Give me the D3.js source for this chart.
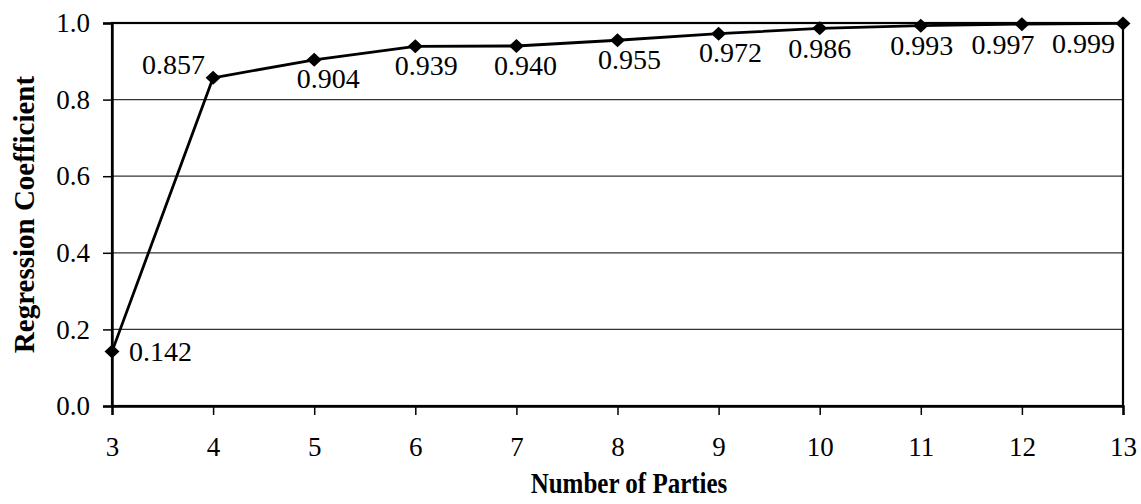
<!DOCTYPE html>
<html>
<head>
<meta charset="utf-8">
<script src="https://cdn.jsdelivr.net/npm/d3@7"></script>
<style>
  html, body { margin: 0; padding: 0; background: #fff; }
  svg { display: block; }
</style>
</head>
<body>
<svg id="chart" width="1141" height="504"></svg>
<script>
// ---- data ----
const parties = [3, 4, 5, 6, 7, 8, 9, 10, 11, 12, 13];
const coefficients = [0.142, 0.857, 0.904, 0.939, 0.940, 0.955, 0.972, 0.986, 0.993, 0.997, 0.999];
const valueLabels = ["0.142", "0.857", "0.904", "0.939", "0.940", "0.955", "0.972", "0.986", "0.993", "0.997", "0.999"];
const yTicks = [0.0, 0.2, 0.4, 0.6, 0.8, 1.0];
const xTitle = "Number of Parties";
const yTitle = "Regression Coefficient";

// label placement (style): anchor, dx, dy of text centre relative to point
const labelPlacement = [
  {anchor: "start",  dx: 17,  dy: 0},
  {anchor: "end",    dx: -8,  dy: -13},
  {anchor: "middle", dx: 14,  dy: 19},
  {anchor: "middle", dx: 11,  dy: 19},
  {anchor: "middle", dx: 9,   dy: 19},
  {anchor: "middle", dx: 12,  dy: 19},
  {anchor: "middle", dx: 12,  dy: 19},
  {anchor: "middle", dx: 0,   dy: 20},
  {anchor: "middle", dx: 1,   dy: 20},
  {anchor: "middle", dx: -19, dy: 20},
  {anchor: "end",    dx: -8,  dy: 20}
];

const svg = d3.select("#chart");
const W = 1141, H = 504;
const margin = {left: 112, right: 1141 - 1123, top: 23, bottom: 504 - 406};
const x = d3.scaleLinear().domain([3, 13]).range([margin.left, W - margin.right]);
const y = d3.scaleLinear().domain([0, 1]).range([H - margin.bottom, margin.top]);

const serif = "'Liberation Serif', 'Times New Roman', Times, serif";
const fsTick = 27, fsLabel = 28;

// gridlines
svg.append("g")
  .selectAll("line")
  .data(yTicks.filter(d => d > 0 && d < 1))
  .join("line")
  .attr("x1", x(3)).attr("x2", x(13))
  .attr("y1", d => y(d)).attr("y2", d => y(d))
  .attr("stroke", "#333").attr("stroke-width", 1.2);

// plot frame
svg.append("rect")
  .attr("x", x(3)).attr("y", y(1))
  .attr("width", x(13) - x(3)).attr("height", y(0) - y(1))
  .attr("fill", "none").attr("stroke", "#000").attr("stroke-width", 2.2);

// y axis
const yAxis = d3.axisLeft(y).tickValues(yTicks).tickFormat(d3.format(".1f")).tickSize(9).tickPadding(13);
const gy = svg.append("g").attr("transform", `translate(${x(3)},0)`).call(yAxis);
gy.select(".domain").attr("stroke", "#000").attr("stroke-width", 2.4);
gy.selectAll(".tick line").attr("stroke", "#000").attr("stroke-width", 1.5);
gy.selectAll(".tick text").attr("font-family", serif).attr("font-size", fsTick).attr("fill", "#000");

// x axis
const xAxis = d3.axisBottom(x).tickValues(parties).tickFormat(d3.format("d")).tickSize(9).tickPadding(22);
const gx = svg.append("g").attr("transform", `translate(0,${y(0)})`).call(xAxis);
gx.select(".domain").attr("stroke", "#000").attr("stroke-width", 2.4);
gx.selectAll(".tick line").attr("stroke", "#000").attr("stroke-width", 1.5);
gx.selectAll(".tick text").attr("font-family", serif).attr("font-size", fsTick).attr("fill", "#000");

// data
const data = parties.map((p, i) => ({p, v: coefficients[i], label: valueLabels[i], pl: labelPlacement[i]}));

svg.append("path")
  .datum(data)
  .attr("fill", "none").attr("stroke", "#000").attr("stroke-width", 2.8)
  .attr("stroke-linejoin", "round")
  .attr("d", d3.line().x(d => x(d.p)).y(d => y(d.v)));

svg.append("g")
  .selectAll("path")
  .data(data)
  .join("path")
  .attr("transform", d => `translate(${x(d.p)},${y(d.v)})`)
  .attr("d", "M0,-7L7.5,0L0,7L-7.5,0Z")
  .attr("fill", "#000");

svg.append("g")
  .selectAll("text")
  .data(data)
  .join("text")
  .attr("x", d => x(d.p) + d.pl.dx)
  .attr("y", d => y(d.v) + d.pl.dy + fsLabel * 0.34)
  .attr("text-anchor", d => d.pl.anchor)
  .attr("font-family", serif).attr("font-size", fsLabel).attr("fill", "#000")
  .text(d => d.label);

// titles
svg.append("text")
  .attr("transform", "translate(629,493) scale(1,1.22)")
  .attr("text-anchor", "middle")
  .attr("font-family", serif).attr("font-weight", "bold").attr("font-size", 25)
  .text(xTitle);

svg.append("text")
  .attr("transform", `translate(34,${(y(0) + y(1)) / 2}) rotate(-90)`)
  .attr("text-anchor", "middle")
  .attr("font-family", serif).attr("font-weight", "bold").attr("font-size", 29)
  .text(yTitle);
</script>
</body>
</html>
